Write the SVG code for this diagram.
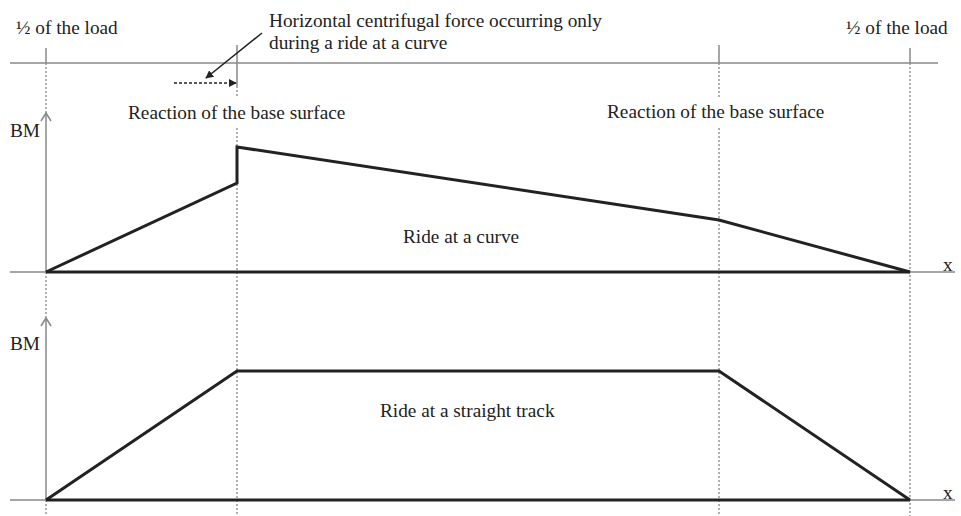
<svg xmlns="http://www.w3.org/2000/svg" width="961" height="516" viewBox="0 0 961 516">
<style>
text{font-family:"Liberation Serif","Times New Roman",serif;font-size:19.3px;fill:#222}
.g{stroke:#888;stroke-width:1.5;fill:none}
.dot{stroke:#888;stroke-width:1.3;stroke-dasharray:2,2;fill:none}
.bm{stroke:#222;stroke-width:3;fill:none;stroke-linejoin:miter}
.blk{stroke:#222;stroke-width:1.5;fill:none}
</style>
<defs>
<marker id="fill" viewBox="0 0 10 10" refX="9" refY="5" markerWidth="8" markerHeight="8" orient="auto" markerUnits="userSpaceOnUse">
<path d="M0,0 L10,5 L0,10 z" fill="#222"/>
</marker>
</defs>
<rect width="961" height="516" fill="#fff"/>
<g id="connectors">
<line class="g" x1="10" y1="63" x2="938" y2="63"/>
<line class="g" x1="46" y1="48" x2="46" y2="63"/>
<line class="g" x1="237" y1="45" x2="237" y2="86"/>
<line class="g" x1="719" y1="45" x2="719" y2="63"/>
<line class="g" x1="910" y1="48" x2="910" y2="63"/>
<line class="dot" x1="46" y1="63" x2="46" y2="113"/>
<line class="dot" x1="46" y1="272" x2="46" y2="318"/>
<line class="dot" x1="46" y1="500" x2="46" y2="516"/>
<line class="dot" x1="237" y1="86" x2="237" y2="98"/>
<line class="dot" x1="237" y1="128" x2="237" y2="516"/>
<line class="dot" x1="719" y1="63" x2="719" y2="98"/>
<line class="dot" x1="719" y1="128" x2="719" y2="516"/>
<line class="dot" x1="910" y1="63" x2="910" y2="516"/>
<line class="g" x1="46" y1="113" x2="46" y2="272"/>
<polyline class="g" points="41,121 46,113 51,121"/>
<line class="g" x1="46" y1="318" x2="46" y2="500"/>
<polyline class="g" points="41,326 46,318 51,326"/>
<line class="g" x1="10" y1="272" x2="955" y2="272"/>
<line class="g" x1="10" y1="500" x2="955" y2="500"/>
<line class="blk" x1="174" y1="83" x2="236" y2="83" stroke-dasharray="3,2" marker-end="url(#fill)"/>
<line class="blk" x1="262" y1="33" x2="206" y2="78" marker-end="url(#fill)"/>
</g>
<g id="curve-diagram">
<line class="bm" x1="46" y1="272" x2="910" y2="272"/>
<polyline class="bm" points="46,272 237,183 237,147 719,220 910,272"/>
</g>
<g id="straight-diagram">
<line class="bm" x1="46" y1="500" x2="910" y2="500"/>
<polyline class="bm" points="46,500 237,371 719,371 910,500"/>
</g>
<g id="labels">
<text x="16" y="34">½ of the load</text>
<text x="846" y="34">½ of the load</text>
<text x="269" y="27">Horizontal centrifugal force occurring only</text>
<text x="269" y="49">during a ride at a curve</text>
<text x="128" y="119">Reaction of the base surface</text>
<text x="607" y="118">Reaction of the base surface</text>
<text x="10" y="137">BM</text>
<text x="10" y="350">BM</text>
<text x="403" y="243">Ride at a curve</text>
<text x="380" y="417">Ride at a straight track</text>
<text x="943" y="271">x</text>
<text x="943" y="499">x</text>
</g>
</svg>
